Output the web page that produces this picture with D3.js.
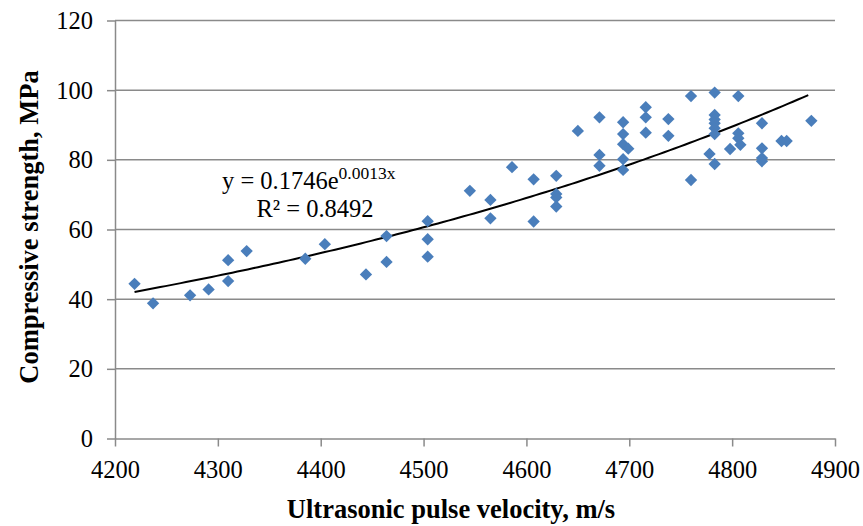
<!DOCTYPE html>
<html>
<head>
<meta charset="utf-8">
<script src="https://cdn.jsdelivr.net/npm/d3@7"></script>
<style>
  body { margin: 0; background: #fff; }
  svg text { font-family: "Liberation Serif", "Times New Roman", serif; fill: #000; }
</style>
</head>
<body>
<div class="chart"></div>
<script>
// pulse velocity (m/s) and compressive strength (MPa)
const velocity = [
  4219, 4237, 4273, 4291, 4310, 4310, 4328, 4385, 4404,
  4444, 4464, 4464, 4504, 4504, 4504, 4545, 4565, 4565, 4586, 4607, 4607,
  4629, 4629, 4629, 4629, 4650, 4671, 4671, 4671,
  4694, 4694, 4694, 4699, 4694, 4694, 4716, 4716, 4716, 4738, 4738,
  4760, 4760, 4783, 4783, 4783, 4783, 4783, 4783, 4778, 4783,
  4806, 4806, 4806, 4808, 4798, 4829, 4829, 4829, 4829, 4848, 4853, 4877
];
const strength = [
  44.4, 38.8, 41.1, 42.8, 51.2, 45.2, 53.8, 51.6, 55.8,
  47.1, 50.7, 58.1, 62.4, 57.2, 52.2, 71.1, 68.5, 63.2, 77.9, 74.4, 62.3,
  75.4, 70.2, 69.2, 66.6, 88.3, 92.2, 81.4, 78.3,
  90.8, 87.4, 84.5, 83.2, 80.2, 77.1, 95.1, 92.2, 87.8, 91.7, 86.9,
  98.3, 74.2, 99.3, 92.9, 91.6, 90.5, 89.1, 87.4, 81.7, 78.8,
  98.3, 87.6, 86.2, 84.3, 83.1, 90.5, 83.3, 80.5, 79.6, 85.4, 85.4, 91.2
];
const xTicks = [4200, 4300, 4400, 4500, 4600, 4700, 4800, 4900];
const yTicks = [0, 20, 40, 60, 80, 100, 120];
const fitA = 0.1746, fitB = 0.0013;

const data = velocity.map((v, i) => ({v: v, s: strength[i]}));

const W = 863, H = 526;
const margin = ({top: 20.5, right: 28, bottom: 87.5, left: 115});
const width = W - margin.left - margin.right,
      height = H - margin.top - margin.bottom;

const svg = d3.select(".chart").append("svg")
  .attr("width", W)
  .attr("height", H);
const g = svg.append("g")
  .attr("transform", `translate(${margin.left},${margin.top})`);

const xScale = d3.scaleLinear().domain([4200, 4900]).range([0, width]);
const yScale = d3.scaleLinear().domain([0, 120]).range([height, 0]);

const gridColor = "#8a8a8a";

// horizontal gridlines
g.selectAll(".grid")
  .data(yTicks.filter(t => t > 0))
  .enter()
  .append("line")
  .attr("x1", 0).attr("x2", width)
  .attr("y1", d => yScale(d)).attr("y2", d => yScale(d))
  .attr("stroke", gridColor)
  .attr("stroke-width", 1.5);

const xAxis = d3.axisBottom(xScale).tickValues(xTicks).tickSize(8).tickSizeOuter(0).tickFormat(d3.format("d"));
const yAxis = d3.axisLeft(yScale).tickValues(yTicks).tickSize(8).tickSizeOuter(0);

const gx = g.append("g")
  .attr("transform", `translate(0,${height})`)
  .call(xAxis);
const gy = g.append("g").call(yAxis);

[gx, gy].forEach(ax => {
  ax.attr("font-family", null).attr("font-size", null);
  ax.select(".domain").attr("stroke", gridColor).attr("stroke-width", 1.5);
  ax.selectAll(".tick line").attr("stroke", gridColor).attr("stroke-width", 1.5);
  ax.selectAll(".tick text")
    .style("font-family", "'Liberation Serif', serif")
    .style("font-size", "24.5px")
    .attr("fill", "#000");
});
gx.selectAll(".tick text").attr("y", 39.5).attr("dy", null);
gy.selectAll(".tick text").attr("x", -22).attr("dy", "0.33em");

// exponential trendline
const fitX = d3.range(d3.min(velocity), d3.max(velocity) + 1, 5);
const line = d3.line()
  .x(d => xScale(d))
  .y(d => yScale(fitA * Math.exp(fitB * d)));
g.append("path")
  .datum(fitX)
  .attr("d", line)
  .attr("fill", "none")
  .attr("stroke", "#000")
  .attr("stroke-width", 2);

// points as diamonds
const diamond = d3.symbol().type(d3.symbolSquare).size(76);
g.selectAll(".pt")
  .data(data)
  .enter()
  .append("path")
  .attr("d", diamond)
  .attr("transform", d => `translate(${xScale(d.v)},${yScale(d.s)}) rotate(45)`)
  .attr("fill", "#4a7ebb");

// equation label
const eq = svg.append("text")
  .attr("x", 222).attr("y", 189)
  .style("font-size", "24.5px");
eq.append("tspan").text("y = 0.1746e");
eq.append("tspan").style("font-size", "17.5px").attr("dy", -10).text("0.0013x");
svg.append("text")
  .attr("x", 315).attr("y", 217)
  .attr("text-anchor", "middle")
  .style("font-size", "24.5px")
  .text("R² = 0.8492");

// axis titles
svg.append("text")
  .attr("x", 451)
  .attr("y", 518)
  .attr("text-anchor", "middle")
  .attr("font-weight", "bold")
  .style("font-size", "26.5px")
  .text("Ultrasonic pulse velocity, m/s");

svg.append("text")
  .attr("transform", `translate(38,227) rotate(-90)`)
  .attr("text-anchor", "middle")
  .attr("font-weight", "bold")
  .style("font-size", "26.5px")
  .text("Compressive strength, MPa");
</script>
</body>
</html>
